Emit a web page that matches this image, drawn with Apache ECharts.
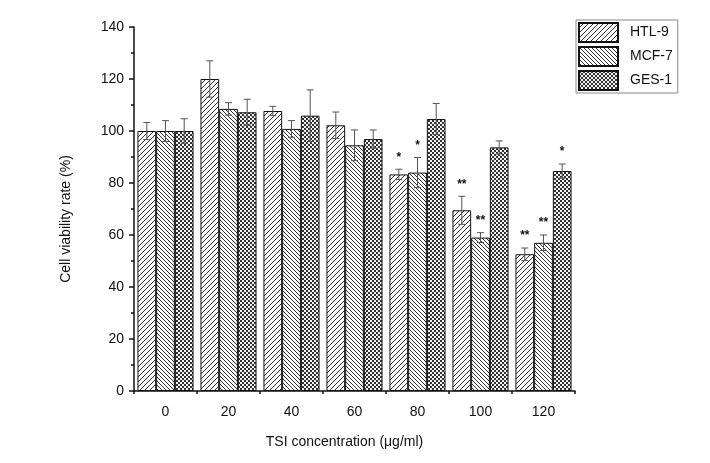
<!DOCTYPE html>
<html><head><meta charset="utf-8">
<script src="https://cdn.jsdelivr.net/npm/echarts@6/dist/echarts.min.js"></script>
<style>html,body{margin:0;padding:0;background:#fff}#c{width:710px;height:463px}</style>
</head><body><div id="c"></div>
<script>
const categories = ['0', '20', '40', '60', '80', '100', '120'];
const yTicks = [0, 20, 40, 60, 80, 100, 120, 140];
const htl9 = [100, 120, 107.7, 102.2, 83.3, 69.5, 52.6];
const htl9Err = [3.3, 7, 1.8, 5.1, 2, 5.4, 2.4];
const mcf7 = [100, 108.5, 100.8, 94.5, 84, 59, 57];
const mcf7Err = [4, 2.4, 3.2, 5.9, 5.8, 1.9, 3];
const ges1 = [100, 107.2, 105.9, 96.9, 104.6, 93.7, 84.6];
const ges1Err = [4.7, 5, 9.9, 3.5, 6, 2.5, 2.7];
const htl9Sig = ['', '', '', '', '*', '**', '**'];
const mcf7Sig = ['', '', '', '', '*', '**', '**'];
const ges1Sig = ['', '', '', '', '', '', '*'];

function hatch(size, dir, color) {
  const c = document.createElement('canvas');
  c.width = size; c.height = size;
  const g = c.getContext('2d');
  g.fillStyle = '#fff'; g.fillRect(0, 0, size, size);
  g.strokeStyle = color; g.lineWidth = 1;
  g.beginPath();
  for (let k = -1; k <= 1; k++) {
    if (dir > 0) { g.moveTo(k * size, size); g.lineTo(k * size + size, 0); }
    else { g.moveTo(k * size, 0); g.lineTo(k * size + size, size); }
  }
  g.stroke();
  return { image: c, repeat: 'repeat' };
}
function checker() {
  const c = document.createElement('canvas');
  c.width = 4; c.height = 4;
  const g = c.getContext('2d');
  g.fillStyle = '#f2f2f2'; g.fillRect(0, 0, 4, 4);
  g.fillStyle = '#333';
  g.fillRect(0, 0, 2, 2); g.fillRect(2, 2, 2, 2);
  return { image: c, repeat: 'repeat' };
}

const GAP = 0.11;
function errSeries(offset, vals, errs, sigs) {
  return {
    type: 'custom', z: 10, silent: true,
    data: vals.map((v, i) => [i, v, errs[i]]),
    renderItem: function (params, api) {
      const i = api.value(0), v = api.value(1), e = api.value(2);
      const c = api.coord([i, v]);
      const bw = api.size([1, 0])[0] * (1 - GAP) / 3;
      const x = c[0] + offset * bw;
      const yT = api.coord([i, v + e])[1], yB = api.coord([i, v - e])[1];
      const st = { stroke: '#555', lineWidth: 1 };
      const children = [
        { type: 'line', shape: { x1: x, y1: yT, x2: x, y2: yB }, style: st },
        { type: 'line', shape: { x1: x - 3.5, y1: yT, x2: x + 3.5, y2: yT }, style: st },
        { type: 'line', shape: { x1: x - 3.5, y1: yB, x2: x + 3.5, y2: yB }, style: st }
      ];
      const s = sigs[params.dataIndex];
      if (s) children.push({ type: 'text', style: { text: s, x: x, y: yT - 6, align: 'center', verticalAlign: 'bottom', fill: '#111', font: 'bold 12px "Liberation Sans", Arial' } });
      return { type: 'group', children: children };
    }
  };
}

const barBase = { type: 'bar', barGap: '0%', barCategoryGap: (GAP * 100) + '%' };
const chart = echarts.init(document.getElementById('c'));
chart.setOption({
  animation: false,
  textStyle: { fontFamily: '"Liberation Sans", Arial, sans-serif' },
  grid: { left: 134, right: 135, top: 27, bottom: 72 },
  legend: {
    orient: 'vertical', left: 576, top: 20, itemWidth: 39, itemHeight: 19, itemGap: 3,
    icon: 'rect',
    padding: [2, 5, 2, 2], borderColor: '#888', borderWidth: 1,
    data: ['HTL-9', 'MCF-7', 'GES-1'],
    textStyle: { fontSize: 14, color: '#111', padding: [0, 0, 0, 7] }
  },
  xAxis: [{
    type: 'category', data: categories,
    name: 'TSI concentration (μg/ml)', nameLocation: 'middle', nameGap: 44,
    nameTextStyle: { fontSize: 14, color: '#111', padding: [0, 20, 0, 0] },
    axisLine: { lineStyle: { color: '#111', width: 1.5 } },
    axisTick: { alignWithLabel: true, length: 6, lineStyle: { color: '#111', width: 1.5 } },
    axisLabel: { fontSize: 14, color: '#111', margin: 14 }
  }, {
    type: 'category', data: categories, position: 'bottom',
    axisLine: { show: false },
    axisTick: { show: true, length: 3, lineStyle: { color: '#111', width: 1.5 } },
    axisLabel: { show: false }
  }],
  yAxis: {
    type: 'value', min: yTicks[0], max: yTicks[yTicks.length - 1], interval: 20,
    name: 'Cell viability rate (%)', nameLocation: 'middle', nameGap: 61,
    nameTextStyle: { fontSize: 14, color: '#111', padding: [0, 20, 0, 0] },
    axisLine: { show: true, lineStyle: { color: '#111', width: 1.5 } },
    axisTick: { show: true, length: 5, lineStyle: { color: '#111', width: 1.5 } },
    minorTick: { show: true, splitNumber: 2, length: 3, lineStyle: { color: '#111', width: 1.5 } },
    splitLine: { show: false },
    axisLabel: { fontSize: 14, color: '#111', margin: 10 }
  },
  series: [
    Object.assign({}, barBase, { name: 'HTL-9', data: htl9, itemStyle: { color: hatch(5, 1, '#333'), borderColor: '#111', borderWidth: 1 } }),
    Object.assign({}, barBase, { name: 'MCF-7', data: mcf7, itemStyle: { color: hatch(4, -1, '#333'), borderColor: '#111', borderWidth: 1 } }),
    Object.assign({}, barBase, { name: 'GES-1', data: ges1, itemStyle: { color: checker(), borderColor: '#111', borderWidth: 1 } }),
    errSeries(-1, htl9, htl9Err, htl9Sig),
    errSeries(0, mcf7, mcf7Err, mcf7Sig),
    errSeries(1, ges1, ges1Err, ges1Sig)
  ]
});
</script></body></html>
